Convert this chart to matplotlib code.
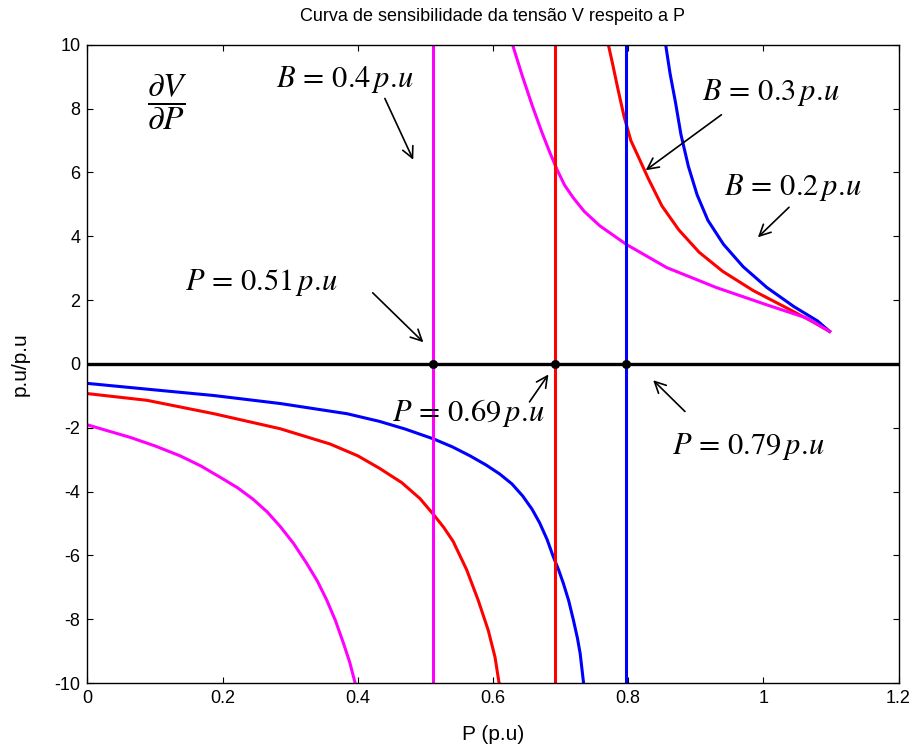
import numpy as np
import matplotlib
matplotlib.use("Agg")
import matplotlib.pyplot as plt

plt.rcParams['font.family'] = ['Liberation Sans', 'DejaVu Sans']
plt.rcParams['mathtext.fontset'] = 'stix'
plt.rcParams['axes.unicode_minus'] = False

# curvas de sensibilidade dV/dP, ramo superior e inferior para cada B
# B = 0.2 p.u (azul)
P_b02_up = [0.855, 0.862, 0.870, 0.878, 0.889, 0.902, 0.918, 0.941, 0.970, 1.005, 1.045, 1.080, 1.098]
V_b02_up = [10.07, 9.1, 8.2, 7.2, 6.2, 5.3, 4.5, 3.75, 3.05, 2.4, 1.8, 1.35, 1.02]
P_b02_lo = [0, 0.088, 0.187, 0.285, 0.384, 0.432, 0.470, 0.512, 0.540, 0.566, 0.590, 0.610,
            0.628, 0.644, 0.658, 0.669, 0.680, 0.689, 0.697, 0.704, 0.712, 0.719, 0.725,
            0.729, 0.734]
V_b02_lo = [-0.61, -0.79, -0.99, -1.24, -1.56, -1.80, -2.04, -2.35, -2.60, -2.88, -3.17, -3.45,
            -3.76, -4.14, -4.56, -4.98, -5.50, -6.03, -6.45, -6.87, -7.42, -8.03, -8.60,
            -9.08, -10.0]
# B = 0.3 p.u (vermelho)
P_b03_up = [0.770, 0.777, 0.785, 0.794, 0.804, 0.816, 0.830, 0.850, 0.875, 0.905, 0.940,
            0.985, 1.035, 1.075, 1.098]
V_b03_up = [10.07, 9.4, 8.6, 7.75, 7.0, 6.45, 5.8, 4.95, 4.2, 3.5, 2.9, 2.3, 1.75, 1.3, 1.02]
P_b03_lo = [0, 0.088, 0.187, 0.285, 0.359, 0.400, 0.432, 0.465, 0.492, 0.512, 0.527, 0.541,
            0.561, 0.578, 0.593, 0.603, 0.609]
V_b03_lo = [-0.93, -1.14, -1.56, -2.03, -2.51, -2.88, -3.27, -3.72, -4.22, -4.72, -5.12, -5.56,
            -6.45, -7.40, -8.35, -9.19, -10.0]
# B = 0.4 p.u (magenta)
P_b04_up = [0.628, 0.643, 0.658, 0.672, 0.684, 0.695, 0.706, 0.719, 0.735, 0.758, 0.797,
            0.857, 0.931, 1.004, 1.064, 1.098]
V_b04_up = [10.07, 9.05, 8.10, 7.28, 6.63, 6.08, 5.60, 5.20, 4.78, 4.33, 3.75, 3.02, 2.39,
            1.86, 1.44, 1.02]
P_b04_lo = [0, 0.063, 0.100, 0.137, 0.168, 0.197, 0.222, 0.245, 0.266, 0.285, 0.305, 0.324,
            0.340, 0.354, 0.367, 0.379, 0.388, 0.396]
V_b04_lo = [-1.91, -2.30, -2.57, -2.88, -3.20, -3.56, -3.88, -4.24, -4.64, -5.09, -5.63, -6.24,
            -6.80, -7.40, -8.05, -8.77, -9.35, -10.0]

# pontos criticos (assintotas)
P_crit = [0.5115, 0.6916, 0.7966]
crit_colors = ['#ff00ff', '#ff0000', '#0000ff']

xticks = [0, 0.2, 0.4, 0.6, 0.8, 1.0, 1.2]
xtick_labels = ['0', '0.2', '0.4', '0.6', '0.8', '1', '1.2']
yticks = list(range(-10, 11, 2))

fig = plt.figure(figsize=(9.19, 7.49), dpi=100)
ax = fig.add_axes([0.0952, 0.0881, 0.8825, 0.852])

lw = 2.2
kw = dict(lw=lw, solid_joinstyle='round')
ax.plot(P_b02_up, V_b02_up, color='#0000ff', **kw)
ax.plot(P_b02_lo, V_b02_lo, color='#0000ff', **kw)
ax.plot(P_b03_up, V_b03_up, color='#ff0000', **kw)
ax.plot(P_b03_lo, V_b03_lo, color='#ff0000', **kw)
ax.plot(P_b04_up, V_b04_up, color='#ff00ff', **kw)
ax.plot(P_b04_lo, V_b04_lo, color='#ff00ff', **kw)

for p, c in zip(P_crit, crit_colors):
    ax.axvline(p, color=c, lw=lw)

ax.plot([0, 1.2], [0, 0], color='black', lw=2.4)
ax.plot(P_crit, [0, 0, 0], 'o', color='black', ms=5.5)

ax.set_xlim(0, 1.2)
ax.set_ylim(-10, 10)
ax.set_xticks(xticks)
ax.set_xticklabels(xtick_labels)
ax.set_yticks(yticks)
ax.tick_params(direction='in', top=True, right=True, length=4, width=0.8,
               labelsize=13, pad=5)
for s in ax.spines.values():
    s.set_linewidth(1.0)

ax.set_title('Curva de sensibilidade da tensão V respeito a P', fontsize=13, pad=17)
ax.set_xlabel('P (p.u)', fontsize=15, labelpad=13)
ax.set_ylabel('p.u/p.u', fontsize=15, labelpad=18)

# anotacoes
fs = 22
ax.text(0.118, 8.2, r'$\dfrac{\partial V}{\partial P}$', fontsize=24, ha='center', va='center')

def label(txt, xy_txt, tail, head):
    ax.text(xy_txt[0], xy_txt[1], txt, fontsize=fs, ha='center', va='center')
    ax.annotate('', xy=head, xytext=tail,
                arrowprops=dict(arrowstyle='->', color='black', lw=1.2,
                                shrinkA=0, shrinkB=0, mutation_scale=20))

label(r'$B\,=\,0.4\,p.\!u$', (0.381, 8.92), (0.440, 8.32), (0.482, 6.40))
label(r'$B\,=\,0.3\,p.\!u$', (1.011, 8.51), (0.938, 7.81), (0.826, 6.07))
label(r'$B\,=\,0.2\,p.\!u$', (1.044, 5.54), (1.038, 4.91), (0.992, 3.97))
label(r'$P\,=\,0.51\,p.\!u$', (0.258, 2.55), (0.422, 2.23), (0.497, 0.68))
label(r'$P\,=\,0.69\,p.\!u$', (0.564, -1.53), (0.654, -1.19), (0.682, -0.33))
label(r'$P\,=\,0.79\,p.\!u$', (0.978, -2.59), (0.884, -1.49), (0.837, -0.51))

fig.savefig('out.png', dpi=100)
